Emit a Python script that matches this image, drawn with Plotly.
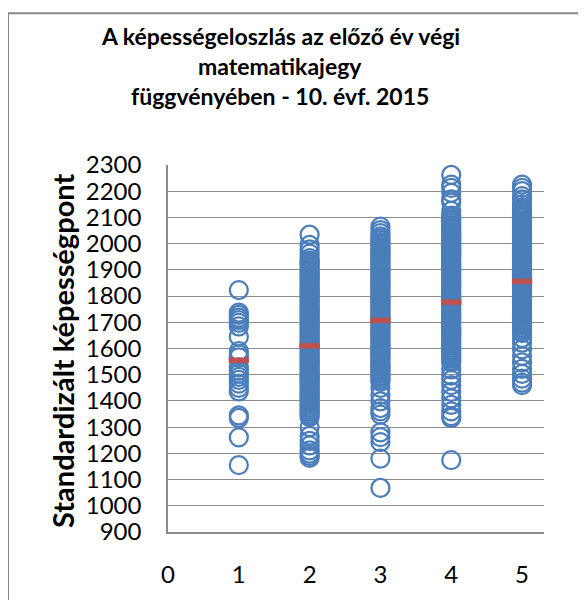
import plotly.graph_objects as go

# ---------------- data ----------------
grades = [1, 2, 3, 4, 5]
x_tick_labels = ["0", "1", "2", "3", "4", "5"]
y_ticks = [900, 1000, 1100, 1200, 1300, 1400, 1500, 1600, 1700, 1800,
           1900, 2000, 2100, 2200, 2300]

grade1_scores = [1823, 1737, 1728, 1718, 1708, 1698, 1684, 1645, 1590, 1578,
                 1566, 1528, 1516, 1504, 1492, 1480, 1466, 1450, 1436, 1345,
                 1335, 1261, 1155]

grade2_scores = [2034, 1995, 1978, 1962, 1945,
                 1935, 1928, 1921, 1914, 1906, 1899, 1892, 1885, 1878, 1870,
                 1863, 1856, 1849, 1842, 1834, 1827, 1820, 1813, 1806, 1798,
                 1791, 1784, 1777, 1770, 1762, 1755, 1748, 1741, 1734, 1726,
                 1719, 1712, 1705, 1698, 1690, 1683, 1676, 1669, 1662, 1654,
                 1647, 1640, 1633, 1626, 1618, 1611, 1604, 1597, 1590, 1582,
                 1575, 1568, 1561, 1554, 1546, 1539, 1532, 1525, 1518, 1510,
                 1503, 1496, 1489, 1482, 1474, 1467, 1460, 1453, 1446, 1438,
                 1431, 1424, 1417, 1410, 1402, 1395, 1388, 1381, 1374, 1366,
                 1359, 1352, 1345, 1338,
                 1300, 1267, 1248, 1230, 1211, 1199, 1190, 1183]

grade3_scores = [2065, 2052, 2040, 2028,
                 2020, 2013, 2006, 1999, 1992, 1984, 1977, 1970, 1963, 1956,
                 1948, 1941, 1934, 1927, 1920, 1912, 1905, 1898, 1891, 1884,
                 1876, 1869, 1862, 1855, 1848, 1840, 1833, 1826, 1819, 1812,
                 1804, 1797, 1790, 1783, 1776, 1768, 1761, 1754, 1747, 1740,
                 1732, 1725, 1718, 1711, 1704, 1696, 1689, 1682, 1675, 1668,
                 1660, 1653, 1646, 1639, 1632, 1624, 1617, 1610, 1603, 1596,
                 1588, 1581, 1574, 1567, 1560, 1552, 1545, 1538, 1531, 1524,
                 1516, 1509, 1502, 1495, 1488, 1480, 1473,
                 1450, 1423, 1398, 1373, 1360, 1348, 1280, 1262, 1243, 1180,
                 1068]

grade4_scores = [2262, 2225, 2213, 2194, 2169, 2157, 2125,
                 2107, 2100, 2093, 2086, 2078, 2071, 2064, 2057, 2050, 2042,
                 2035, 2028, 2021, 2014, 2006, 1999, 1992, 1985, 1978, 1970,
                 1963, 1956, 1949, 1942, 1934, 1927, 1920, 1913, 1906, 1898,
                 1891, 1884, 1877, 1870, 1862, 1855, 1848, 1841, 1834, 1826,
                 1819, 1812, 1805, 1798, 1790, 1783, 1776, 1769, 1762, 1754,
                 1747, 1740, 1733, 1726, 1718, 1711, 1704, 1697, 1690, 1682,
                 1675, 1668, 1661, 1654, 1646, 1639, 1632, 1625, 1618, 1610,
                 1603, 1596, 1589, 1582, 1574, 1567, 1560, 1553, 1547,
                 1520, 1497, 1480, 1460, 1435, 1410, 1385, 1360, 1342, 1335,
                 1174]

grade5_scores = [2225, 2213, 2200, 2181, 2169, 2150, 2138,
                 2132, 2125, 2118, 2111, 2104, 2096, 2089, 2082, 2075, 2068,
                 2060, 2053, 2046, 2039, 2032, 2024, 2017, 2010, 2003, 1996,
                 1988, 1981, 1974, 1967, 1960, 1952, 1945, 1938, 1931, 1924,
                 1916, 1909, 1902, 1895, 1888, 1880, 1873, 1866, 1859, 1852,
                 1844, 1837, 1830, 1823, 1816, 1808, 1801, 1794, 1787, 1780,
                 1772, 1765, 1758, 1751, 1744, 1736, 1729, 1722, 1715, 1708,
                 1700, 1693, 1686, 1679, 1672, 1664, 1659,
                 1640, 1622, 1597, 1572, 1547, 1522, 1503, 1485, 1470, 1460]

grade_means = [1555, 1610, 1707, 1777, 1856]

title_lines = ["A képességeloszlás az előző év végi",
               "matematikajegy",
               "függvényében - 10. évf. 2015"]
y_title = "Standardizált képességpont"

# ---------------- figure ----------------
BLUE = "#4a7ebb"
RED = "#c0504d"
GRID = "#8c8c8c"
FONT = "Lato"

all_scores = [grade1_scores, grade2_scores, grade3_scores,
              grade4_scores, grade5_scores]
xs, ys = [], []
for g, sc in zip(grades, all_scores):
    xs += [g] * len(sc)
    ys += sc

fig = go.Figure()
fig.add_trace(go.Scatter(
    x=xs, y=ys, mode="markers",
    marker=dict(symbol="circle-open", size=18, color=BLUE,
                line=dict(width=2.25, color=BLUE)),
    showlegend=False, hoverinfo="skip"))
fig.add_trace(go.Scatter(
    x=grades, y=grade_means, mode="markers",
    marker=dict(symbol="line-ew", size=14.5, color=RED,
                line=dict(width=5.5, color=RED)),
    showlegend=False, hoverinfo="skip"))

# page is offset by the 8px body margin
OFF = 8
W, H = 586 - OFF, 600 - OFF
L, T = 168 - OFF, 165 - OFF
PW, PH = 376, 375
R, B = W - L - PW, H - T - PH

def px_to_paper_x(px):
    return (px - OFF - L) / PW

def px_to_paper_y(py):
    return (T + PH - (py - OFF)) / PH

annotations = []
for line, py in zip(title_lines, [33, 64, 95]):
    annotations.append(dict(
        text="<b>%s</b>" % line, x=px_to_paper_x(280), y=px_to_paper_y(py),
        xref="paper", yref="paper", xanchor="center", yanchor="middle",
        showarrow=False, font=dict(family=FONT, size=23, color="black")))
annotations.append(dict(
    text="<b>%s</b>" % y_title, x=px_to_paper_x(63), y=px_to_paper_y(355),
    xref="paper", yref="paper", xanchor="center", yanchor="middle",
    textangle=-90, showarrow=False,
    font=dict(family=FONT, size=29, color="black")))

fig.update_layout(
    width=W, height=H,
    margin=dict(l=L, r=R, t=T, b=B, pad=0),
    paper_bgcolor="white", plot_bgcolor="white",
    showlegend=False,
    annotations=annotations,
    shapes=[dict(type="rect", xref="paper", yref="paper",
                 x0=px_to_paper_x(8), x1=px_to_paper_x(640),
                 y0=px_to_paper_y(660), y1=px_to_paper_y(10),
                 line=dict(color="#868686", width=2), layer="above")],
    xaxis=dict(range=[0, 5.31], tickvals=list(range(6)),
               ticktext=x_tick_labels, showgrid=False, zeroline=False,
               showline=True, linecolor=GRID, linewidth=1.5, ticks="",
               ticklabelstandoff=20,
               tickfont=dict(family=FONT, size=24, color="black")),
    yaxis=dict(range=[900, 2300], tickvals=y_ticks, showgrid=True,
               gridcolor=GRID, gridwidth=1.2, zeroline=False,
               showline=True, linecolor=GRID, linewidth=1.5, ticks="",
               ticklabelstandoff=20,
               tickfont=dict(family=FONT, size=24, color="black")),
)

fig.write_html("out.html")
